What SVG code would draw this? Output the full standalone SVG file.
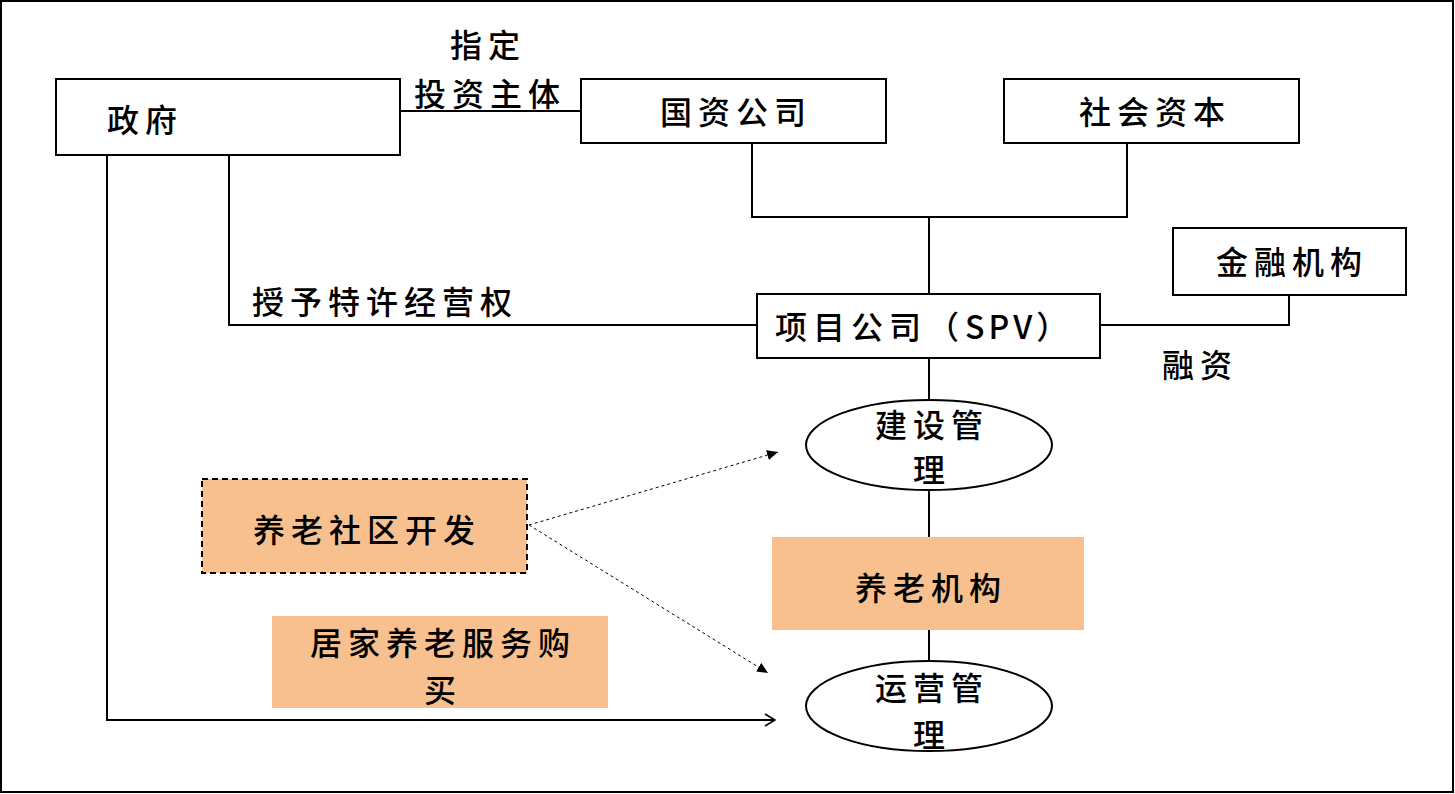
<svg xmlns="http://www.w3.org/2000/svg" width="1455" height="794" viewBox="0 0 1455 794">
<style>
text{font-family:"Noto Sans CJK SC","Noto Sans",sans-serif;font-size:32px;font-weight:500;fill:#000;letter-spacing:6px}
.b{fill:#fff;stroke:#000;stroke-width:2}
.o{fill:#F8C08F;stroke:none}
.ds{fill:#F8C08F;stroke:#000;stroke-width:2;stroke-dasharray:6 4}
.l{fill:none;stroke:#000;stroke-width:2}
.d{fill:none;stroke:#000;stroke-width:1;stroke-dasharray:3 3}
.m{text-anchor:middle}
</style>
<defs>
<marker id="open" markerWidth="14" markerHeight="14" refX="12" refY="7" orient="auto" markerUnits="userSpaceOnUse">
<path d="M2,1 L12,7 L2,13" fill="none" stroke="#000" stroke-width="1.5"/>
</marker>
<marker id="tri" markerWidth="12" markerHeight="12" refX="11" refY="6" orient="auto" markerUnits="userSpaceOnUse">
<path d="M0,1 L11,6 L0,11 Z" fill="#000"/>
</marker>
</defs>
<rect x="1" y="1" width="1452" height="791" fill="#fff" stroke="#000" stroke-width="2"/>
<g id="connectors">
<path class="l" d="M400,111 H581"/>
<path class="l" d="M752,143 V217 H1127 V143"/>
<path class="l" d="M929,217 V294"/>
<path class="l" d="M1100,325 H1289 V295"/>
<path class="l" d="M229,155 V325 H757"/>
<path class="l" d="M107,155 V720 H775" marker-end="url(#open)"/>
<path class="l" d="M929,358 V400"/>
<path class="l" d="M929,490 V537"/>
<path class="l" d="M929,630 V662"/>
<path class="d" d="M529,525 L778,452" marker-end="url(#tri)"/>
<path class="d" d="M529,525 L768,673" marker-end="url(#tri)"/>
<text x="488" y="57" class="m">指定</text>
<text x="490" y="106" class="m">投资主体</text>
<text x="252" y="314">授予特许经营权</text>
<text x="1162" y="377">融资</text>
</g>
<g id="n-gov"><rect class="b" x="56" y="79" width="344" height="76"/><text x="107" y="132">政府</text></g>
<g id="n-guozi"><rect class="b" x="581" y="79" width="305" height="64"/><text x="736" y="124" class="m">国资公司</text></g>
<g id="n-shehui"><rect class="b" x="1004" y="79" width="295" height="64"/><text x="1155" y="124" class="m">社会资本</text></g>
<g id="n-jinrong"><rect class="b" x="1173" y="228" width="233" height="67"/><text x="1292" y="274" class="m">金融机构</text></g>
<g id="n-spv"><rect class="b" x="757" y="294" width="343" height="64"/><text x="775" y="339">项目公司（<tspan letter-spacing="4">SPV</tspan>）</text></g>
<g id="n-jianshe"><ellipse class="b" cx="929" cy="445" rx="123" ry="45"/><text x="932" y="437" class="m">建设管</text><text x="932" y="482" class="m">理</text></g>
<g id="n-yanglaojigou"><rect class="o" x="772" y="537" width="312" height="93"/><text x="931" y="600" class="m">养老机构</text></g>
<g id="n-yunying"><ellipse class="b" cx="929" cy="706" rx="123" ry="45"/><text x="932" y="700" class="m">运营管</text><text x="932" y="747" class="m">理</text></g>
<g id="n-shequ"><rect class="ds" x="202" y="479" width="325" height="94"/><text x="367" y="542" class="m">养老社区开发</text></g>
<g id="n-jujia"><rect class="o" x="272" y="616" width="336" height="92"/><text x="443" y="655" class="m">居家养老服务购</text><text x="443" y="702" class="m">买</text></g>
</svg>
